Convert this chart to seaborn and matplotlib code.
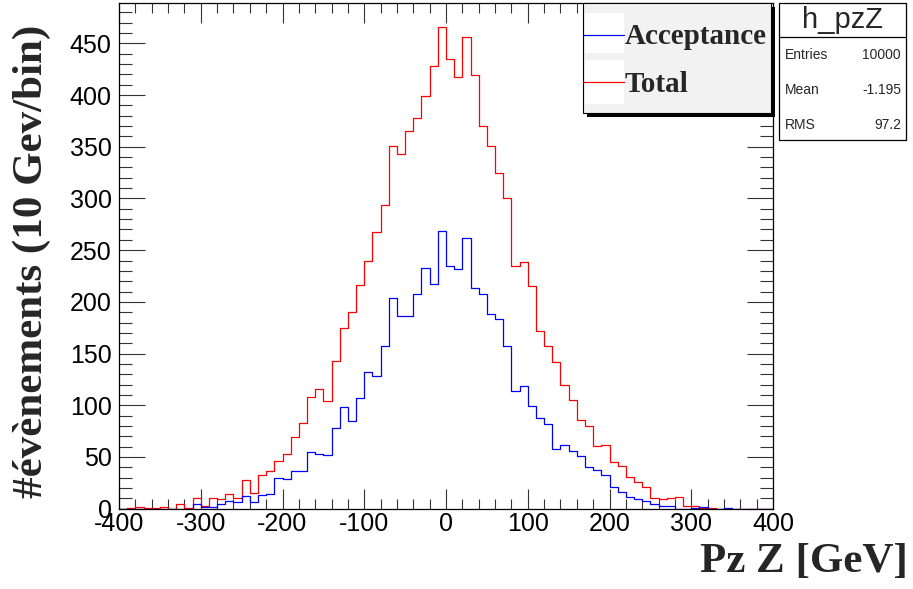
import numpy as np
import pandas as pd
import matplotlib
matplotlib.use("Agg")
import matplotlib.pyplot as plt
import seaborn as sns
from matplotlib.patches import Rectangle
from matplotlib.ticker import MultipleLocator

# ---- data (10 GeV bins from -400 to 400) ----
bin_edges = list(range(-400, 401, 10))
total = [0, 1, 2, 1, 1, 2, 0, 5, 1, 10,
         3, 10, 9, 14, 10, 28, 15, 33, 36, 46,
         53, 69, 83, 108, 116, 104, 143, 175, 190, 216,
         240, 268, 294, 351, 343, 365, 378, 399, 428, 466,
         435, 417, 456, 419, 370, 351, 325, 300, 235, 239,
         215, 172, 157, 142, 120, 105, 86, 80, 61, 62,
         45, 41, 31, 26, 21, 10, 9, 10, 11, 3,
         3, 1, 1, 0, 0, 0, 0, 0, 0, 0]
acceptance = [0, 0, 0, 0, 0, 0, 0, 0, 0, 5,
              2, 2, 5, 7, 6, 12, 6, 13, 14, 30,
              29, 36, 36, 55, 53, 52, 78, 98, 85, 107,
              132, 128, 157, 204, 186, 186, 208, 233, 217, 269,
              235, 232, 262, 213, 208, 188, 183, 157, 114, 119,
              99, 88, 82, 58, 62, 56, 51, 40, 37, 33,
              21, 16, 11, 9, 7, 5, 3, 3, 0, 0,
              1, 2, 0, 0, 1, 0, 0, 0, 0, 0]
xticks = [-400, -300, -200, -100, 0, 100, 200, 300, 400]
yticks = [0, 50, 100, 150, 200, 250, 300, 350, 400, 450]
stats_names = ["Entries", "Mean", "RMS"]
stats_values = ["10000", "-1.195", "97.2"]

edges = [float(e) for e in bin_edges]
centers = [(a + b) / 2 for a, b in zip(edges[:-1], edges[1:])]
df = pd.DataFrame({"pz": centers, "total": total, "acceptance": acceptance})

sns.set_style("white")
plt.rcParams["font.family"] = ["Liberation Sans", "DejaVu Sans"]
plt.rcParams["axes.unicode_minus"] = False

W, H = 913, 589
fig = plt.figure(figsize=(W / 100, H / 100), dpi=100)
L, R, T, B = 119, 773, 2.5, 508.7
ax = fig.add_axes([L / W, 1 - B / H, (R - L) / W, (B - T) / H])

sns.histplot(data=df, x="pz", weights="total", bins=edges, element="step",
             fill=False, color="#ff0000", linewidth=0.9, ax=ax)
sns.histplot(data=df, x="pz", weights="acceptance", bins=edges, element="step",
             fill=False, color="#0000ff", linewidth=0.9, ax=ax)

ax.set_xlim(-400, 400)
ax.set_ylim(0, 489.5)
ax.set_xticks(xticks)
ax.set_yticks(yticks)
ax.xaxis.set_minor_locator(MultipleLocator(20))
ax.yaxis.set_minor_locator(MultipleLocator(10))
ax.tick_params(axis="x", which="major", direction="in", length=14.4, width=0.8,
               top=True, bottom=True, labelsize=18, pad=2.5, color="#333333",
               labelcolor="black")
ax.tick_params(axis="x", which="minor", direction="in", length=7.2, width=0.8,
               top=True, bottom=True, color="#333333")
ax.tick_params(axis="y", which="major", direction="in", length=18.7, width=0.8,
               left=True, right=True, labelsize=18, pad=5.3, color="#333333",
               labelcolor="black")
ax.tick_params(axis="y", which="minor", direction="in", length=9.4, width=0.8,
               left=True, right=True, color="#333333")
for s in ax.spines.values():
    s.set_visible(True)
    s.set_color("black")
    s.set_linewidth(0.9)
ax.set_xlabel("")
ax.set_ylabel("")

# axis titles (ROOT style)
fig.text(32 / W, 1 - 261 / H, "#évènements (10 Gev/bin)", rotation=90,
         ha="center", va="center", fontsize=31, fontweight="bold",
         family=["Liberation Serif", "DejaVu Serif"])
fig.text(908 / W, 1 - 562 / H, "Pz Z [GeV]", ha="right", va="center",
         fontsize=31, fontweight="bold", family=["Liberation Serif", "DejaVu Serif"])

# overlay in pixel coordinates for legend and stats box
ov = fig.add_axes([0, 0, 1, 1], zorder=10)
ov.set_xlim(0, W)
ov.set_ylim(H, 0)
ov.axis("off")
ov.patch.set_alpha(0)

# legend with shadow
ov.add_patch(Rectangle((587, 7), 188, 110, facecolor="black", edgecolor="none"))
ov.add_patch(Rectangle((583, 3), 188, 110, facecolor="#f2f2f2", edgecolor="black", linewidth=0.8))
ov.add_patch(Rectangle((585, 13), 39, 40, facecolor="white", edgecolor="none"))
ov.add_patch(Rectangle((585, 60), 39, 44, facecolor="white", edgecolor="none"))
ov.plot([583, 624], [34.5, 34.5], color="#0000ff", linewidth=0.9)
ov.plot([583, 624], [82, 82], color="#ff0000", linewidth=0.9)
ov.text(625, 37, "Acceptance", ha="left", va="center", fontsize=21, fontweight="bold",
        family=["Liberation Serif", "DejaVu Serif"])
ov.text(625, 84, "Total", ha="left", va="center", fontsize=21, fontweight="bold",
        family=["Liberation Serif", "DejaVu Serif"])

# stats box
ov.add_patch(Rectangle((779, 2.5), 127, 137.5, facecolor="white", edgecolor="black", linewidth=0.9))
ov.plot([779, 906], [37, 37], color="black", linewidth=0.9)
ov.text(842, 20, "h_pzZ", ha="center", va="center", fontsize=21)
for i, (nm, val) in enumerate(zip(stats_names, stats_values)):
    yy = 55 + i * 35
    ov.text(785, yy, nm, ha="left", va="center", fontsize=10)
    ov.text(901, yy, val, ha="right", va="center", fontsize=10)

fig.savefig("out.png", dpi=100, facecolor="white")
